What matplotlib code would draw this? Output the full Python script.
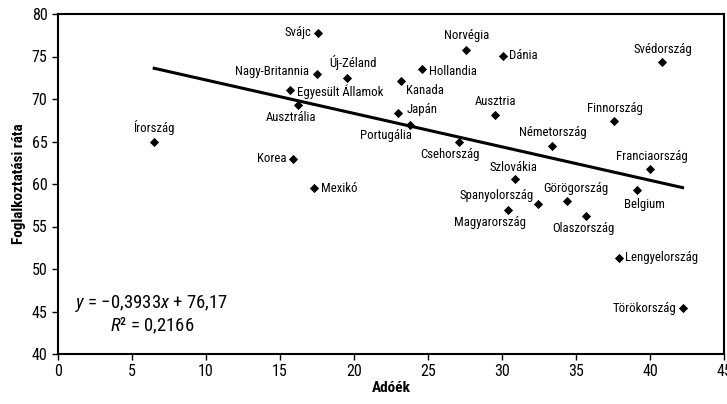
import matplotlib
matplotlib.use("Agg")
import matplotlib.pyplot as plt
from matplotlib import font_manager as fm
import numpy as np

countries = ["Írország", "Svájc", "Nagy-Britannia", "Új-Zéland", "Egyesült Államok",
             "Ausztrália", "Korea", "Mexikó", "Hollandia", "Kanada", "Japán",
             "Portugália", "Csehország", "Norvégia", "Dánia", "Svédország",
             "Ausztria", "Finnország", "Németország", "Franciaország", "Szlovákia",
             "Belgium", "Görögország", "Spanyolország", "Magyarország",
             "Olaszország", "Lengyelország", "Törökország"]
taxes = [6.5, 17.6, 17.5, 19.5, 15.7, 16.2, 15.9, 17.3, 24.6, 23.2, 23.0,
         23.8, 27.1, 27.6, 30.1, 40.8, 29.5, 37.6, 33.4, 40.0, 30.9,
         39.1, 34.4, 32.4, 30.4, 35.7, 37.9, 42.2]
employment = [64.9, 77.8, 72.9, 72.5, 71.1, 69.3, 63.0, 59.5, 73.5, 72.1, 68.4,
              67.0, 64.9, 75.8, 75.1, 74.3, 68.1, 67.4, 64.5, 61.8, 60.6,
              59.3, 58.0, 57.6, 56.9, 56.2, 51.3, 45.4]
slope = -0.3933
intercept = 76.17
r2 = 0.2166
x_ticks = [0, 5, 10, 15, 20, 25, 30, 35, 40, 45]
y_ticks = [40, 45, 50, 55, 60, 65, 70, 75, 80]

# label placement: (dx px, dy px, ha, va)
label_pos = {
    "Írország": (0, 7, "center", "bottom"),
    "Svájc": (-7, 0, "right", "center"),
    "Nagy-Britannia": (-8, 3, "right", "center"),
    "Új-Zéland": (6, 8, "center", "bottom"),
    "Egyesült Államok": (7, -2, "left", "center"),
    "Ausztrália": (-7, -6, "center", "top"),
    "Korea": (-7, 0, "right", "center"),
    "Mexikó": (7, 0, "left", "center"),
    "Hollandia": (7, -2, "left", "center"),
    "Kanada": (5, -9, "left", "center"),
    "Japán": (8, 3, "left", "center"),
    "Portugália": (-24, -5, "center", "top"),
    "Csehország": (-9, -6, "center", "top"),
    "Norvégia": (0, 8, "center", "bottom"),
    "Dánia": (6, 0, "left", "center"),
    "Svédország": (1, 6, "center", "bottom"),
    "Ausztria": (1, 7, "center", "bottom"),
    "Finnország": (0, 6, "center", "bottom"),
    "Németország": (0, 7, "center", "bottom"),
    "Franciaország": (2, 6, "center", "bottom"),
    "Szlovákia": (-2, 5, "center", "bottom"),
    "Belgium": (8, -8, "center", "top"),
    "Görögország": (9, 6, "center", "bottom"),
    "Spanyolország": (-4, 9, "right", "center"),
    "Magyarország": (-18, -6, "center", "top"),
    "Olaszország": (-3, -6, "center", "top"),
    "Lengyelország": (6, 0, "left", "center"),
    "Törökország": (-6, 0, "right", "center"),
}

avail = {f.name for f in fm.fontManager.ttflist}
fam = None
for cand in ["Liberation Sans Narrow", "DejaVu Sans Condensed", "Roboto Condensed", "Open Sans Condensed"]:
    if cand in avail:
        fam = cand
        break
if fam is None:
    fam = "DejaVu Sans"
plt.rcParams["font.family"] = [fam, "DejaVu Sans"]
plt.rcParams["mathtext.fontset"] = "custom"
plt.rcParams["mathtext.rm"] = fam
plt.rcParams["mathtext.it"] = fam + ":italic"

fig = plt.figure(figsize=(7.27, 4.04), dpi=100)
ax = fig.add_axes([58 / 727, 1 - 354 / 404, 666 / 727, 340 / 404])

ax.scatter(taxes, employment, marker="D", s=22, color="black", zorder=3, linewidths=0)

xs = np.array([min(taxes), max(taxes)])
ax.plot(xs, slope * xs + intercept, color="black", lw=2.2, zorder=2)

px2pt = 72 / 100
for name, x, y in zip(countries, taxes, employment):
    dx, dy, ha, va = label_pos[name]
    ax.annotate(name, (x, y), xytext=(dx * px2pt, dy * px2pt), textcoords="offset points",
                ha=ha, va=va, fontsize=9.2)

ax.text(6.3, 46.0, "$y$ = −0,3933$x$ + 76,17", ha="center", va="center", fontsize=13.5)
ax.text(6.4, 43.3, "$R$² = 0,2166", ha="center", va="center", fontsize=13.5)

ax.set_xlim(0, 45)
ax.set_ylim(40, 80)
ax.set_xticks(x_ticks)
ax.set_yticks(y_ticks)
ax.tick_params(axis="both", labelsize=11.5, direction="out", length=4, width=1, top=False, right=False)
for s in ax.spines.values():
    s.set_linewidth(1.5)
ax.set_xlabel("Adóék", fontsize=11, fontweight="bold", labelpad=1)
ax.set_ylabel("Foglalkoztatási ráta", fontsize=11, fontweight="bold", labelpad=4)

fig.savefig("out.png", dpi=100)
